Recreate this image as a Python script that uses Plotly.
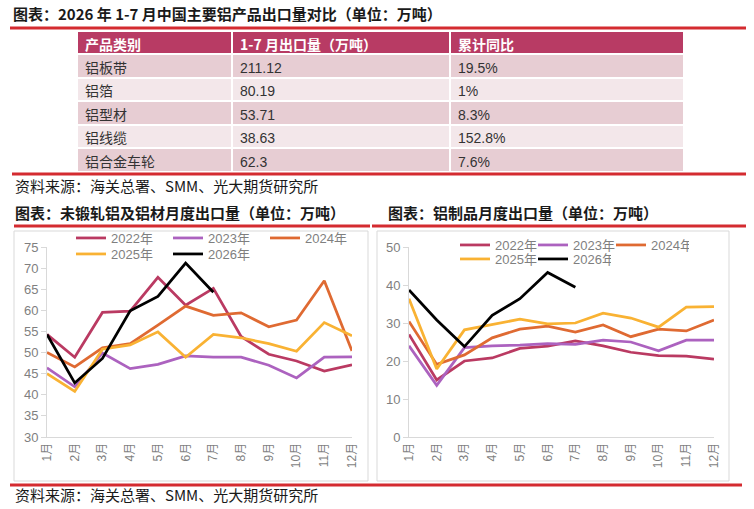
import plotly.graph_objects as go

# ---- datos de la tabla ----
tabla_cols = ['产品类别', '1-7 月出口量（万吨）', '累计同比']
productos = ['铝板带', '铝箔', '铝型材', '铝线缆', '铝合金车轮']
export_1_7 = ['211.12', '80.19', '53.71', '38.63', '62.3']
yoy = ['19.5%', '1%', '8.3%', '152.8%', '7.6%']

# ---- datos de los gráficos ----
meses = ['1月', '2月', '3月', '4月', '5月', '6月', '7月', '8月', '9月', '10月', '11月', '12月']
anios = ['2022年', '2023年', '2024年', '2025年', '2026年']

# 未锻轧铝及铝材
izq_2022 = [54.3, 48.9, 59.5, 59.8, 67.8, 61.2, 65.2, 53.8, 49.6, 48.0, 45.6, 47.1]
izq_2023 = [46.4, 41.9, 49.9, 46.2, 47.2, 49.2, 48.9, 48.9, 47.0, 44.0, 48.9, 49.0]
izq_2024 = [50.0, 46.6, 51.1, 52.1, 56.5, 61.0, 58.8, 59.4, 56.1, 57.7, 67.0, 50.4]
izq_2025 = [45.0, 40.8, 50.8, 51.8, 54.9, 48.9, 54.3, 53.5, 52.1, 50.3, 57.1, 54.0]
izq_2026 = [54.3, 42.8, 48.6, 59.9, 63.3, 71.2, 64.3]

# 铝制品
der_2022 = [27.0, 15.0, 20.0, 20.8, 23.3, 23.9, 25.3, 24.0, 22.3, 21.4, 21.3, 20.5]
der_2023 = [24.0, 13.6, 23.5, 24.0, 24.2, 24.6, 24.4, 25.5, 25.0, 22.7, 25.5, 25.5]
der_2024 = [30.4, 19.1, 21.6, 26.1, 28.4, 29.2, 27.6, 29.5, 26.4, 28.4, 27.9, 30.8]
der_2025 = [36.4, 17.9, 28.2, 29.5, 31.0, 29.8, 30.0, 32.6, 31.3, 28.9, 34.2, 34.3]
der_2026 = [38.7, 30.8, 23.8, 32.0, 36.4, 43.3, 39.4]

colores = {'2022年': '#BA3A62', '2023年': '#AC62BF', '2024年': '#DF6A32',
           '2025年': '#F9B233', '2026年': '#000000'}

W, H = 754, 509


def px_x(v):
    return v / W


def px_y(v):
    return 1 - v / H


FUENTE = 'Noto Sans CJK SC'
NUM = 'Liberation Sans, Noto Sans CJK SC'
GRIS = '#7F7F7F'
ROJO = '#D42B30'

fig = go.Figure()

# tabla
filas = ['#E7CDD3', '#F3E7EA', '#E7CDD3', '#F3E7EA', '#E7CDD3']
fig.add_trace(go.Table(
    domain=dict(x=[px_x(77), px_x(684)], y=[px_y(176), px_y(31)]),
    columnwidth=[155, 218, 234],
    header=dict(values=tabla_cols, fill_color='#B83B64',
                line=dict(color='white', width=2), align='left', height=23,
                font=dict(family=FUENTE, size=14, color='white', weight='bold')),
    cells=dict(values=[productos, export_1_7, yoy], fill_color=[filas] * 3,
               line=dict(color='white', width=2), align='left', height=23.6,
               font=dict(family=NUM, size=14, color='#333333')),
))

series_izq = [izq_2022, izq_2023, izq_2024, izq_2025, izq_2026]
series_der = [der_2022, der_2023, der_2024, der_2025, der_2026]

for i, (anio, ys) in enumerate(zip(anios, series_izq)):
    fig.add_trace(go.Scatter(x=meses[:len(ys)], y=ys, name=anio, mode='lines',
                             line=dict(color=colores[anio], width=2.75),
                             xaxis='x', yaxis='y',
                             legend='legend' if i < 3 else 'legend2'))

for i, (anio, ys) in enumerate(zip(anios, series_der)):
    fig.add_trace(go.Scatter(x=meses[:len(ys)], y=ys, name=anio, mode='lines',
                             line=dict(color=colores[anio], width=2.75),
                             xaxis='x2', yaxis='y2',
                             legend='legend3' if i < 3 else 'legend4'))

eje_x = dict(type='category', categoryorder='array', categoryarray=meses,
             tickangle=-90, showgrid=False, showline=True, linecolor='#D9D9D9',
             ticks='', tickfont=dict(family=NUM, size=12, color=GRIS), zeroline=False,
             automargin=False)
eje_y = dict(showgrid=False, showline=True, linecolor='#D9D9D9', ticks='outside',
             ticklen=5, tickcolor='#D9D9D9', tickfont=dict(family=NUM, size=13, color=GRIS),
             zeroline=False, automargin=False)

leg = dict(orientation='h', bgcolor='rgba(0,0,0,0)', yanchor='middle', xanchor='left',
           font=dict(family=NUM, size=13, color=GRIS), entrywidthmode='pixels',
           itemclick=False, itemdoubleclick=False)

fig.update_layout(
    width=W, height=H, margin=dict(l=0, r=0, t=0, b=0, autoexpand=False),
    paper_bgcolor='white', plot_bgcolor='white',
    xaxis=dict(eje_x, domain=[px_x(47), px_x(352)], anchor='y'),
    yaxis=dict(eje_y, domain=[px_y(437), px_y(247)], range=[30, 75], dtick=5, anchor='x'),
    xaxis2=dict(eje_x, domain=[px_x(409), px_x(714)], anchor='y2'),
    yaxis2=dict(eje_y, domain=[px_y(437), px_y(247)], range=[0, 50], dtick=10, anchor='x2'),
    legend=dict(leg, x=px_x(71), y=px_y(238), entrywidth=52),
    legend2=dict(leg, x=px_x(71), y=px_y(254), entrywidth=52),
    legend3=dict(leg, x=px_x(455), y=px_y(245), entrywidth=33),
    legend4=dict(leg, x=px_x(455), y=px_y(259), entrywidth=33),
    showlegend=True,
)

# líneas rojas y marcos
formas = [
    dict(type='line', x0=10, x1=746, y0=28, y1=28, line=dict(color=ROJO, width=3)),
    dict(type='line', x0=12, x1=746, y0=174, y1=174, line=dict(color=ROJO, width=3)),
    dict(type='line', x0=14, x1=370, y0=226, y1=226, line=dict(color=ROJO, width=3)),
    dict(type='line', x0=372, x1=746, y0=226, y1=226, line=dict(color=ROJO, width=3)),
    dict(type='line', x0=10, x1=742, y0=485, y1=485, line=dict(color=ROJO, width=3)),
    dict(type='rect', x0=14, x1=368, y0=231, y1=481, line=dict(color='#D9D9D9', width=1)),
    dict(type='rect', x0=377, x1=729, y0=231, y1=481, line=dict(color='#D9D9D9', width=1)),
]
for f in formas:
    f.update(xref='paper', yref='paper', x0=px_x(f['x0']), x1=px_x(f['x1']),
             y0=px_y(f['y0']), y1=px_y(f['y1']))
    fig.add_shape(**f)

textos = [
    ('<b>图表：2026 年 1-7 月中国主要铝产品出口量对比（单位：万吨）</b>', 11, 13),
    ('资料来源：海关总署、SMM、光大期货研究所', 13, 185),
    ('<b>图表：未锻轧铝及铝材月度出口量（单位：万吨）</b>', 13, 212),
    ('<b>图表：铝制品月度出口量（单位：万吨）</b>', 386, 212),
    ('资料来源：海关总署、SMM、光大期货研究所', 13, 494),
]
for t, x, y in textos:
    fig.add_annotation(text=t, x=px_x(x), y=px_y(y), xref='paper', yref='paper',
                       xanchor='left', yanchor='middle', showarrow=False,
                       font=dict(family=FUENTE, size=15, color='#1A1A1A'))

# quitar el margen por defecto del <body> para que la figura llene la ventana
fig.write_html("out.html", config={'displayModeBar': False},
               post_script="document.body.style.margin = '0';")
